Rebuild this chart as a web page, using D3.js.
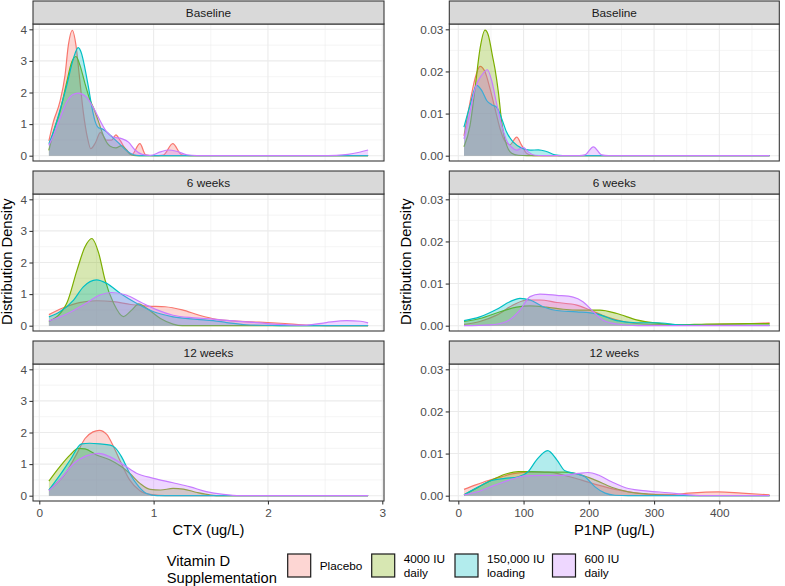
<!DOCTYPE html>
<html><head><meta charset="utf-8">
<script src="https://cdn.jsdelivr.net/npm/d3@7"></script>
<style>body{margin:0;background:#fff} svg{display:block;font-family:"Liberation Sans",Arial,Helvetica,sans-serif}</style>
</head><body><svg id="chart" width="785" height="586"></svg>
<script>
// ---------- data ----------
const groups = ["Placebo", "4000 IU\ndaily", "150,000 IU\nloading", "600 IU\ndaily"];
const groupColors = ["#F8766D", "#7CAE00", "#00BFC4", "#C77CFF"];
const timepoints = ["Baseline", "6 weeks", "12 weeks"];
const ctxTicks = [0, 1, 2, 3];
const p1npTicks = [0, 100, 200, 300, 400];
const ctxDensityTicks = [0, 1, 2, 3, 4];
const p1npDensityTicks = [0, 0.01, 0.02, 0.03];

// CTX, Baseline  [x, density]
const ctxBaselinePlacebo = [[0.084,0.47],[0.123,1.07],[0.18,1.7],[0.225,2.54],[0.254,3.49],[0.289,3.97],[0.321,3.49],[0.35,2.54],[0.385,1.38],[0.423,0.54],[0.45,0.22],[0.49,0.4],[0.535,0.74],[0.59,0.49],[0.633,0.49],[0.67,0.66],[0.706,0.49],[0.76,0.17],[0.808,0.03],[0.88,0.38],[0.93,0.03],[1.0,0.0],[1.085,0.02],[1.167,0.38],[1.245,0.03],[1.32,0],[2.876,0]];
const ctxBaseline4000 = [[0.084,0.17],[0.123,0.75],[0.18,1.38],[0.24,2.33],[0.283,2.96],[0.321,3.14],[0.356,2.86],[0.40,2.28],[0.44,1.8],[0.487,1.4],[0.53,0.95],[0.57,0.55],[0.62,0.3],[0.67,0.25],[0.72,0.32],[0.76,0.2],[0.80,0.04],[0.85,0],[2.876,0]];
const ctxBaseline150k = [[0.084,0.38],[0.123,0.75],[0.18,1.43],[0.24,2.23],[0.298,3.07],[0.34,3.42],[0.37,3.23],[0.40,2.75],[0.43,2.17],[0.46,1.54],[0.49,1.07],[0.52,0.88],[0.55,0.85],[0.6,0.72],[0.65,0.55],[0.7,0.38],[0.75,0.2],[0.8,0.07],[0.85,0.01],[0.9,0],[2.876,0]];
const ctxBaseline600 = [[0.084,0.33],[0.123,0.64],[0.18,1.17],[0.24,1.7],[0.29,1.93],[0.34,1.98],[0.41,1.86],[0.47,1.54],[0.53,1.12],[0.59,0.75],[0.647,0.59],[0.72,0.54],[0.78,0.43],[0.84,0.17],[0.9,0.04],[0.97,0.01],[1.06,0.12],[1.13,0.18],[1.2,0.14],[1.29,0.03],[1.38,0.005],[1.5,0],[2.45,0],[2.6,0.01],[2.7,0.04],[2.8,0.11],[2.876,0.18]];
// CTX, 6 weeks
const ctx6wPlacebo = [[0.084,0.35],[0.2,0.55],[0.35,0.73],[0.5,0.79],[0.65,0.76],[0.8,0.67],[0.95,0.62],[1.1,0.6],[1.25,0.5],[1.4,0.33],[1.55,0.2],[1.7,0.15],[1.85,0.12],[2.0,0.1],[2.15,0.07],[2.3,0.03],[2.45,0.01],[2.6,0],[2.876,0]];
const ctx6w4000 = [[0.084,0.13],[0.24,0.71],[0.33,1.76],[0.40,2.5],[0.46,2.76],[0.52,2.29],[0.575,1.45],[0.65,0.71],[0.735,0.29],[0.81,0.5],[0.87,0.69],[0.94,0.55],[1.06,0.23],[1.17,0.05],[1.25,0],[2.876,0]];
const ctx6w150k = [[0.084,0.28],[0.18,0.44],[0.3,0.81],[0.385,1.23],[0.5,1.45],[0.59,1.34],[0.71,1.02],[0.85,0.71],[1.0,0.44],[1.17,0.28],[1.38,0.2],[1.52,0.16],[1.64,0.1],[1.81,0.03],[2.0,0.01],[2.15,0],[2.876,0]];
const ctx6w600 = [[0.084,0.15],[0.24,0.37],[0.41,0.71],[0.53,0.97],[0.63,1.05],[0.76,0.97],[0.88,0.76],[1.03,0.5],[1.17,0.33],[1.35,0.25],[1.52,0.21],[1.7,0.15],[1.9,0.1],[2.1,0.04],[2.25,0.02],[2.34,0.02],[2.51,0.1],[2.69,0.16],[2.81,0.14],[2.876,0.09]];
// CTX, 12 weeks
const ctx12wPlacebo = [[0.084,0.18],[0.24,0.76],[0.33,1.34],[0.4,1.81],[0.47,2.02],[0.525,2.07],[0.59,1.94],[0.65,1.55],[0.71,1.08],[0.79,0.5],[0.88,0.16],[0.97,0.04],[1.05,0.01],[1.15,0],[2.876,0]];
const ctx12w4000 = [[0.084,0.46],[0.18,0.92],[0.27,1.29],[0.34,1.5],[0.4,1.48],[0.5,1.29],[0.62,1.13],[0.71,0.94],[0.79,0.71],[0.88,0.39],[0.97,0.2],[1.06,0.18],[1.17,0.23],[1.26,0.21],[1.38,0.1],[1.5,0.02],[1.6,0],[2.876,0]];
const ctx12w150k = [[0.084,0.18],[0.18,0.65],[0.27,1.13],[0.37,1.64],[0.44,1.66],[0.53,1.64],[0.62,1.6],[0.66,1.53],[0.72,1.23],[0.79,0.71],[0.87,0.29],[0.94,0.07],[1.03,0],[2.876,0]];
const ctx12w600 = [[0.084,0.16],[0.18,0.5],[0.3,1.02],[0.41,1.26],[0.52,1.34],[0.62,1.23],[0.74,0.97],[0.85,0.71],[1.0,0.55],[1.17,0.41],[1.32,0.28],[1.46,0.13],[1.61,0.04],[1.76,0],[2.876,0]];

// P1NP, Baseline
const p1npBaselinePlacebo = [[8.7,0.0047],[18,0.0127],[25.6,0.0183],[33.3,0.0212],[40.9,0.0199],[48.6,0.0159],[56.2,0.0112],[64,0.0064],[71.6,0.0034],[79,0.0026],[89.5,0.0044],[97,0.0025],[105,0.0005],[115,0],[477,0]];
const p1npBaseline4000 = [[8.7,0.0021],[18,0.0072],[25.6,0.0159],[33.3,0.0254],[40.9,0.0298],[46,0.0286],[52.2,0.0238],[56.2,0.0206],[61.4,0.0151],[66.5,0.008],[74,0.0025],[81.8,0.0006],[92,0.0001],[105,0],[477,0]];
const p1npBaseline150k = [[8.7,0.0068],[18,0.012],[28.1,0.0167],[35.8,0.0155],[43.5,0.0131],[51.1,0.0121],[58.8,0.0115],[66.5,0.0088],[74,0.0056],[84.3,0.0032],[97,0.0018],[110,0.0013],[122.7,0.0014],[135,0.001],[148,0.0002],[160,0],[477,0]];
const p1npBaseline600 = [[8.7,0.004],[18,0.0104],[25.6,0.0159],[35.8,0.0191],[44.5,0.0204],[51,0.0179],[58.8,0.0123],[66.5,0.0072],[74,0.0036],[81.8,0.002],[89.5,0.0013],[99.7,0.002],[107,0.0009],[117.5,0.0001],[130,0],[185,0],[194,0.0002],[207,0.0021],[219.7,0.0002],[230,0],[477,0]];
// P1NP, 6 weeks
const p1np6wPlacebo = [[8.7,0.0003],[33,0.001],[58.8,0.0025],[84,0.0049],[105,0.0061],[125,0.0061],[151,0.0055],[181.5,0.0049],[202,0.0037],[227,0.0021],[253,0.001],[283.6,0.0004],[355,0.0002],[406,0.0003],[477,0.0007]];
const p1np6w4000 = [[8.7,0.001],[33,0.0017],[64,0.0033],[89.4,0.0044],[110,0.0047],[135,0.0044],[161,0.0039],[186.5,0.0037],[217,0.0037],[243,0.0029],[273,0.0014],[304,0.0006],[340,0.0002],[380,0.0004],[477,0.0005]];
const p1np6w150k = [[8.7,0.0012],[33,0.0021],[59,0.0039],[79,0.0057],[94.5,0.0065],[110,0.0061],[130,0.0045],[151,0.0036],[181.5,0.0033],[212,0.0028],[243,0.0012],[273,0.0007],[304,0.0007],[340,0.0002],[380,0.0001],[477,0.0001]];
const p1np6w600 = [[8.7,0],[48.6,0.0002],[74,0.001],[94.5,0.0037],[110,0.0069],[125,0.0075],[151,0.0072],[176,0.0068],[191,0.0057],[207,0.0033],[222,0.0013],[243,0.0004],[275,0],[477,0]];
// P1NP, 12 weeks
const p1np12wPlacebo = [[8.7,0.0015],[25.6,0.0025],[46,0.0036],[66.5,0.0045],[87,0.0053],[112.5,0.0056],[138,0.0056],[163.5,0.0048],[189,0.0037],[214.6,0.0025],[240,0.0015],[271,0.0007],[301,0.0003],[327,0.0003],[352.5,0.0006],[398.5,0.0009],[434,0.0006],[477,0.0002]];
const p1np12w4000 = [[8.7,0.0002],[30.7,0.002],[51,0.0037],[71.6,0.0051],[92,0.0057],[112.5,0.0057],[138,0.0056],[163.5,0.0056],[189,0.0049],[210,0.0037],[235,0.002],[260.6,0.0009],[291,0.0004],[327,0.0001],[360,0],[477,0]];
const p1np12w150k = [[8.7,0.0002],[30.7,0.0021],[51,0.0036],[71.6,0.0041],[92,0.0045],[107,0.0057],[120,0.0085],[137,0.0107],[151,0.0085],[163.5,0.0059],[179,0.0053],[194,0.0045],[209.5,0.0021],[225,0.0006],[240,0.0001],[260,0],[477,0]];
const p1np12w600 = [[8.7,0.0002],[30.7,0.001],[56,0.0025],[81.8,0.0039],[102,0.0047],[128,0.0048],[158,0.0048],[184,0.0053],[199,0.0055],[214.6,0.0049],[235,0.0033],[260.6,0.0017],[291,0.0011],[322,0.0007],[352.5,0.0002],[385,0],[477,0]];

// ---------- layout ----------
const svg = d3.select("#chart");
const FONT_SMALL = 11.8, FONT_TITLE = 14.7;
const panelTops = [24, 194, 364], panelH = 137, stripH = 23;

const columns = [
  { id: "ctx", x0: 33, x1: 384, xDomain: [-0.055, 3.015], yDomain: [-0.168, 4.168],
    xTicks: ctxTicks, xMinor: [0.5, 1.5, 2.5], yTicks: ctxDensityTicks, yMinor: [0.5, 1.5, 2.5, 3.5],
    xFmt: d3.format("d"), yFmt: d3.format("d"), title: "CTX (ug/L)", yTitleX: 12.3,
    series: [
      [ctxBaselinePlacebo, ctxBaseline4000, ctxBaseline150k, ctxBaseline600],
      [ctx6wPlacebo, ctx6w4000, ctx6w150k, ctx6w600],
      [ctx12wPlacebo, ctx12w4000, ctx12w150k, ctx12w600]] },
  { id: "p1np", x0: 449.3, x1: 779.3, xDomain: [-13.8, 491.9], yDomain: [-0.00126, 0.03126],
    xTicks: p1npTicks, xMinor: [50, 150, 250, 350, 450], yTicks: p1npDensityTicks, yMinor: [0.005, 0.015, 0.025],
    xFmt: d3.format("d"), yFmt: d3.format(".2f"), title: "P1NP (ug/L)", yTitleX: 410.5,
    series: [
      [p1npBaselinePlacebo, p1npBaseline4000, p1npBaseline150k, p1npBaseline600],
      [p1np6wPlacebo, p1np6w4000, p1np6w150k, p1np6w600],
      [p1np12wPlacebo, p1np12w4000, p1np12w150k, p1np12w600]] }
];

const defs = svg.append("defs");

columns.forEach((col, ci) => {
  const x = d3.scaleLinear().domain(col.xDomain).range([col.x0, col.x1]);
  timepoints.forEach((tp, ri) => {
    const top = panelTops[ri];
    const y = d3.scaleLinear().domain(col.yDomain).range([top + panelH, top]);
    const g = svg.append("g");
    const clipId = `clip-${col.id}-${ri}`;
    defs.append("clipPath").attr("id", clipId).append("rect")
      .attr("x", col.x0).attr("y", top).attr("width", col.x1 - col.x0).attr("height", panelH);

    g.append("rect").attr("x", col.x0).attr("y", top).attr("width", col.x1 - col.x0).attr("height", panelH).attr("fill", "#fff");
    // minor grid
    g.selectAll(".vmin").data(col.xMinor).join("line")
      .attr("x1", d => x(d)).attr("x2", d => x(d)).attr("y1", top).attr("y2", top + panelH)
      .attr("stroke", "#EBEBEB").attr("stroke-width", 0.55);
    g.selectAll(".hmin").data(col.yMinor).join("line")
      .attr("x1", col.x0).attr("x2", col.x1).attr("y1", d => y(d)).attr("y2", d => y(d))
      .attr("stroke", "#EBEBEB").attr("stroke-width", 0.55);
    // major grid
    g.selectAll(".vmaj").data(col.xTicks).join("line")
      .attr("x1", d => x(d)).attr("x2", d => x(d)).attr("y1", top).attr("y2", top + panelH)
      .attr("stroke", "#EBEBEB").attr("stroke-width", 1.1);
    g.selectAll(".hmaj").data(col.yTicks).join("line")
      .attr("x1", col.x0).attr("x2", col.x1).attr("y1", d => y(d)).attr("y2", d => y(d))
      .attr("stroke", "#EBEBEB").attr("stroke-width", 1.1);

    const area = d3.area().x(d => x(d[0])).y0(y(0)).y1(d => y(d[1])).curve(d3.curveMonotoneX);
    const line = d3.line().x(d => x(d[0])).y(d => y(d[1])).curve(d3.curveMonotoneX);
    const dg = g.append("g").attr("clip-path", `url(#${clipId})`);
    col.series[ri].forEach((pts, si) => {
      dg.append("path").attr("d", area(pts)).attr("fill", groupColors[si]).attr("fill-opacity", 0.3).attr("stroke", "none");
      dg.append("path").attr("d", line(pts)).attr("fill", "none").attr("stroke", groupColors[si]).attr("stroke-width", 1.2);
    });

    // panel border
    g.append("rect").attr("x", col.x0).attr("y", top).attr("width", col.x1 - col.x0).attr("height", panelH)
      .attr("fill", "none").attr("stroke", "#333333").attr("stroke-width", 1.07);
    // strip
    g.append("rect").attr("x", col.x0).attr("y", top - stripH).attr("width", col.x1 - col.x0).attr("height", stripH)
      .attr("fill", "#D9D9D9").attr("stroke", "#333333").attr("stroke-width", 1.07);
    g.append("text").attr("x", (col.x0 + col.x1) / 2).attr("y", top - stripH / 2).attr("dy", "0.35em")
      .attr("text-anchor", "middle").attr("font-size", FONT_SMALL).attr("fill", "#1A1A1A").text(tp);

    // y axis
    const ya = g.append("g").attr("transform", `translate(${col.x0},0)`)
      .call(d3.axisLeft(y).tickValues(col.yTicks).tickFormat(col.yFmt).tickSize(3.6).tickPadding(2.4));
    ya.select(".domain").remove();
    ya.selectAll(".tick line").attr("stroke", "#333333").attr("stroke-width", 1.07);
    ya.selectAll(".tick text").attr("font-size", FONT_SMALL).attr("fill", "#4D4D4D").attr("font-family", null);

    if (ri === timepoints.length - 1) {
      const xa = g.append("g").attr("transform", `translate(0,${top + panelH})`)
        .call(d3.axisBottom(x).tickValues(col.xTicks).tickFormat(col.xFmt).tickSize(3.6).tickPadding(4.5));
      xa.select(".domain").remove();
      xa.selectAll(".tick line").attr("stroke", "#333333").attr("stroke-width", 1.07);
      xa.selectAll(".tick text").attr("font-size", FONT_SMALL).attr("fill", "#4D4D4D").attr("font-family", null);
    }
  });

  // axis titles
  svg.append("text").attr("x", (col.x0 + col.x1) / 2).attr("y", 535).attr("text-anchor", "middle")
    .attr("font-size", FONT_TITLE).attr("fill", "#000").text(col.title);
  svg.append("text").attr("transform", `translate(${col.yTitleX},261.7) rotate(-90)`).attr("text-anchor", "middle")
    .attr("font-size", FONT_TITLE).attr("fill", "#000").text("Distribution Density");
});

// ---------- legend ----------
const lg = svg.append("g");
lg.append("text").attr("x", 166.7).attr("y", 566).attr("font-size", FONT_TITLE).text("Vitamin D");
lg.append("text").attr("x", 166.7).attr("y", 582.5).attr("font-size", FONT_TITLE).text("Supplementation");
const keyX = [287.7, 371.7, 455, 552.5];
groups.forEach((name, i) => {
  lg.append("rect").attr("x", keyX[i]).attr("y", 554).attr("width", 23).attr("height", 23)
    .attr("fill", groupColors[i]).attr("fill-opacity", 0.3).attr("stroke", "#1A1A1A").attr("stroke-width", 1.2);
  const lines = name.split("\n");
  if (lines.length === 1) {
    lg.append("text").attr("x", keyX[i] + 32).attr("y", 570).attr("font-size", FONT_SMALL).attr("fill", "#000").text(lines[0]);
  } else {
    lines.forEach((l, j) => lg.append("text").attr("x", keyX[i] + 32).attr("y", 563.2 + j * 13.3)
      .attr("font-size", FONT_SMALL).attr("fill", "#000").text(l));
  }
});
</script>
</body></html>
